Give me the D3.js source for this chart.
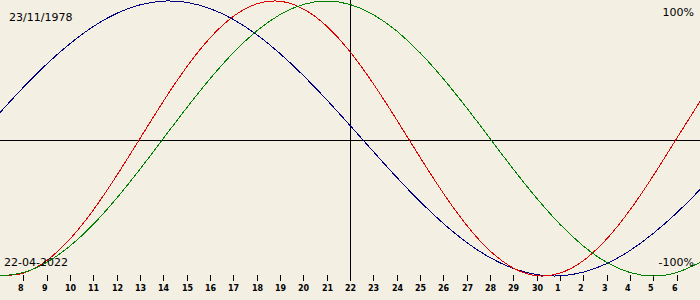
<!DOCTYPE html>
<html>
<head>
<meta charset="utf-8">
<script src="https://cdn.jsdelivr.net/npm/d3@7"></script>
<style>
  html, body { margin: 0; padding: 0; background: #f3efe3; }
  svg { display: block; }
</style>
</head>
<body>
<svg id="chart" width="700" height="300"></svg>
<script>
// Day labels (22 April 2022 is the centre day)
const dayLabels = [7,8,9,10,11,12,13,14,15,16,17,18,19,20,21,22,23,24,25,26,27,28,29,30,1,2,3,4,5,6,7];
// Physical (red), percent
const physical = [-99.8,-97.9,-88.8,-73.1,-52.0,-27.0,0,27.0,52.0,73.1,88.8,97.9,99.8,94.2,81.7,63.1,39.8,13.6,-13.6,-39.8,-63.1,-81.7,-94.2,-99.8,-97.9,-88.8,-73.1,-52.0,-27.0,0,27.0];
// Emotional (green), percent
const emotional = [-100,-97.5,-90.1,-78.2,-62.4,-43.4,-22.3,0,22.3,43.4,62.4,78.2,90.1,97.5,100,97.5,90.1,78.2,62.4,43.4,22.3,0,-22.3,-43.4,-62.4,-78.2,-90.1,-97.5,-100,-97.5,-90.1];
// Intellectual (blue), percent
const intellectual = [18.9,37.2,54.1,69.0,81.5,91.0,97.2,99.9,99.0,94.5,86.6,75.6,61.8,45.8,28.2,9.5,-9.5,-28.2,-45.8,-61.8,-75.6,-86.6,-94.5,-99.0,-99.9,-97.2,-91.0,-81.5,-69.0,-54.1,-37.2];
const birthText = "23/11/1978";
const dateText = "22-04-2022";
const topLabel = "100%";
const bottomLabel = "-100%";
const centreIndex = 15;

const W = 700, H = 300, plotBottom = 280;
const svg = d3.select("#chart");
svg.append("rect").attr("width", W).attr("height", H).attr("fill", "#f3efe3");

const x = d3.scaleLinear().domain([0, dayLabels.length - 1]).range([0, W]);
const y = d3.scaleLinear().domain([-100, 100]).range([276, 1]);

// centre horizontal line and vertical "today" line
svg.append("line")
  .attr("x1", 0).attr("x2", W).attr("y1", plotBottom / 2 + 0.5).attr("y2", plotBottom / 2 + 0.5)
  .attr("stroke", "#000").attr("shape-rendering", "crispEdges");
svg.append("line")
  .attr("x1", Math.round(x(centreIndex)) + 0.5).attr("x2", Math.round(x(centreIndex)) + 0.5)
  .attr("y1", 0).attr("y2", plotBottom)
  .attr("stroke", "#000").attr("shape-rendering", "crispEdges");

// ticks and labels
const tickIdx = d3.range(1, dayLabels.length - 1);
const axis = svg.append("g");
axis.selectAll("line").data(tickIdx).join("line")
  .attr("x1", d => Math.round(x(d)) + 0.5).attr("x2", d => Math.round(x(d)) + 0.5)
  .attr("y1", 275).attr("y2", 281)
  .attr("stroke", "#000").attr("shape-rendering", "crispEdges");
axis.selectAll("text").data(tickIdx).join("text")
  .attr("x", d => Math.round(x(d)) - 5).attr("y", 291)
  .attr("font-family", "DejaVu Sans").attr("font-size", "8px").attr("font-weight", "bold")
  .attr("fill", "#000")
  .text(d => dayLabels[d]);

// curves
const line = d3.line()
  .x((d, i) => x(i))
  .y(d => y(d))
  .curve(d3.curveNatural);
const series = [
  { values: intellectual, color: "#000080" },
  { values: physical, color: "#e00000" },
  { values: emotional, color: "#008000" }
];
svg.selectAll("path.series").data(series).join("path")
  .attr("class", "series")
  .attr("d", d => line(d.values))
  .attr("fill", "none")
  .attr("stroke", d => d.color)
  .attr("stroke-width", 1)
  .attr("shape-rendering", "crispEdges");

// text labels
const txt = (s, xx, yy, anchor) => svg.append("text")
  .attr("x", xx).attr("y", yy).attr("text-anchor", anchor)
  .attr("font-family", "DejaVu Sans").attr("font-size", "11px").attr("fill", "#000")
  .text(s);
txt(birthText, 9, 21, "start");
txt(dateText, 4, 266, "start");
txt(topLabel, 694, 16, "end");
txt(bottomLabel, 694, 266, "end");
</script>
</body>
</html>
